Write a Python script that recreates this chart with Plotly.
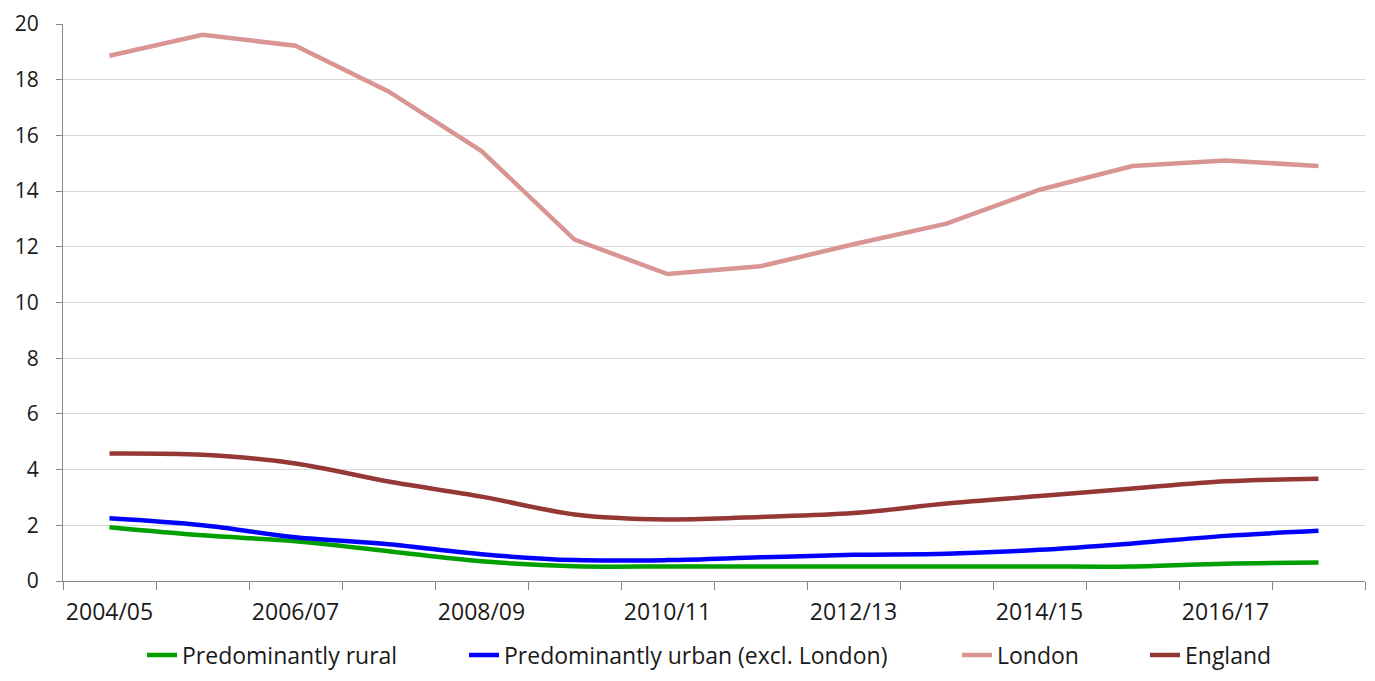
import plotly.graph_objects as go

# Data
years = ["2004/05", "2005/06", "2006/07", "2007/08", "2008/09", "2009/10", "2010/11",
         "2011/12", "2012/13", "2013/14", "2014/15", "2015/16", "2016/17", "2017/18"]
rural = [1.93, 1.64, 1.43, 1.07, 0.71, 0.53, 0.52, 0.52, 0.52, 0.52, 0.52, 0.52, 0.62, 0.66]
urban = [2.25, 2.00, 1.57, 1.32, 0.96, 0.75, 0.75, 0.85, 0.94, 0.98, 1.12, 1.35, 1.62, 1.80]
london = [18.86, 19.61, 19.22, 17.58, 15.44, 12.26, 11.02, 11.30, 12.09, 12.83, 14.05, 14.90, 15.10, 14.90]
england = [4.58, 4.53, 4.22, 3.57, 3.03, 2.39, 2.21, 2.30, 2.44, 2.78, 3.05, 3.32, 3.58, 3.67]

names = ["Predominantly rural", "Predominantly urban (excl. London)", "London", "England"]
colors = ["#00a000", "#0000ff", "#d99594", "#953735"]
shapes = ["spline", "spline", "linear", "spline"]
legend_x = [134, 456, 949, 1137]  # left edge of each legend entry, px

W, H = 1359, 665
x = list(range(len(years)))

fig = go.Figure()
for i, (name, vals, col, shp) in enumerate(zip(names, [rural, urban, london, england], colors, shapes)):
    lg = "legend" if i == 0 else f"legend{i+1}"
    fig.add_trace(go.Scatter(x=x, y=vals, mode="lines", name=name, line_shape=shp,
                             line=dict(color=col, width=4.5), legend=lg))
    fig.update_layout({lg: dict(orientation="h", xref="container", x=legend_x[i] / W, xanchor="left",
                                yref="container", y=0.027, yanchor="middle",
                                font=dict(size=23), bgcolor="rgba(0,0,0,0)")})

fig.update_layout(width=W, height=H,
                  margin=dict(l=55, r=2, t=16, b=92),
                  plot_bgcolor="white", paper_bgcolor="white",
                  font=dict(family="Open Sans", size=21, color="#1a1a1a"),
                  showlegend=True)
fig.update_xaxes(range=[-0.5, len(years) - 0.5], automargin=False,
                 tickmode="array", tickvals=x[::2], ticktext=years[::2],
                 tickfont=dict(size=23),
                 ticks="outside", ticklen=10, tickcolor="rgba(0,0,0,0)",
                 showgrid=False, zeroline=False,
                 showline=True, linecolor="#868686", linewidth=1,
                 minor=dict(tickmode="linear", tick0=-0.5, dtick=1, ticks="outside",
                            ticklen=8, tickcolor="#868686", showgrid=False))
fig.update_yaxes(range=[0, 20], dtick=2, showgrid=True, gridcolor="#d9d9d9",
                 automargin=False, zeroline=False, showline=True,
                 linecolor="#868686", linewidth=1, ticklabelstandoff=13,
                 ticklabeloverflow="allow",
                 ticks="outside", ticklen=6, tickcolor="#868686")

fig.write_html("out.html")
